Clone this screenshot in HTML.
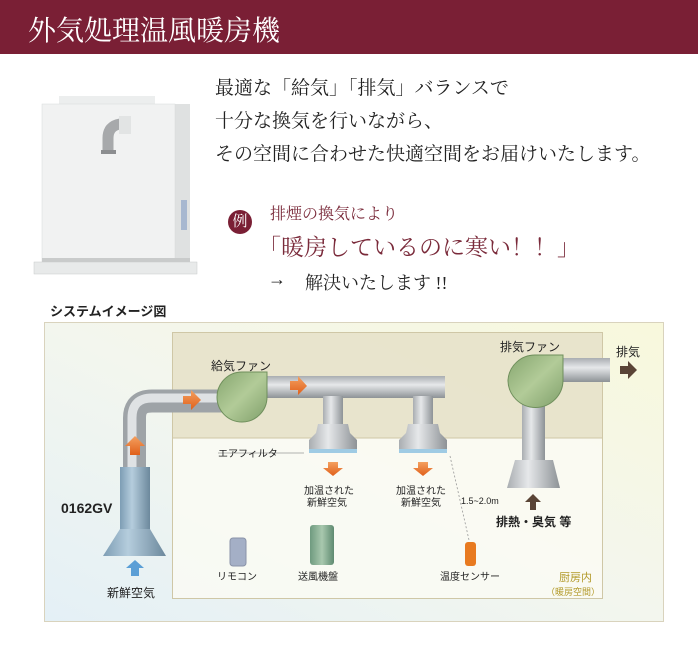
<!DOCTYPE html>
<html><head><meta charset="utf-8"><style>
body{margin:0;width:698px;height:667px;background:#fff;overflow:hidden;position:relative;font-family:"Liberation Sans","Noto Sans CJK JP",sans-serif}
.hd{position:absolute;left:0;top:0;width:698px;height:54px;background:#7a1f35}
.t{position:absolute;white-space:nowrap;font-family:"Liberation Serif","Noto Serif CJK SC",serif}
svg{position:absolute;left:0;top:0}
</style></head><body>
<div class="hd"></div>
<div class="t" style="left:28px;top:9px;font-size:28px;color:#fff">外気処理温風暖房機</div>
<div class="t" style="left:215px;top:73px;font-size:19px;color:#222">最適な「給気」「排気」バランスで</div>
<div class="t" style="left:215px;top:106px;font-size:19px;color:#222">十分な換気を行いながら、</div>
<div class="t" style="left:215px;top:139px;font-size:19px;color:#222">その空間に合わせた快適空間をお届けいたします。</div>
<div style="position:absolute;left:228px;top:210px;width:24px;height:24px;border-radius:50%;background:#7a1f35;color:#fff;font-family:'Liberation Serif','Noto Serif CJK SC',serif;font-size:15px;line-height:24px;text-align:center">例</div>
<div class="t" style="left:270px;top:201px;font-size:16px;color:#7a2a3a">排煙の換気により</div>
<div class="t" style="left:258px;top:229px;font-size:23px;color:#7a2a3a">「暖房しているのに寒い！！」</div>
<div class="t" style="left:268px;top:269px;font-size:18px;color:#222">→</div>
<div class="t" style="left:305px;top:269px;font-size:18px;color:#222">解決いたします !!</div>
<svg width="698" height="667" viewBox="0 0 698 667">
<defs>
<linearGradient id="bg" x1="0" y1="1" x2="1" y2="0"><stop offset="0" stop-color="#e4f0f6"/><stop offset="0.5" stop-color="#f3f6ee"/><stop offset="1" stop-color="#f8f8dc"/></linearGradient>
<linearGradient id="ph" x1="0" y1="0" x2="0" y2="1"><stop offset="0" stop-color="#a9adb1"/><stop offset="0.4" stop-color="#e6e8ea"/><stop offset="1" stop-color="#8d9296"/></linearGradient>
<linearGradient id="pv" x1="0" y1="0" x2="1" y2="0"><stop offset="0" stop-color="#a9adb1"/><stop offset="0.4" stop-color="#e6e8ea"/><stop offset="1" stop-color="#8d9296"/></linearGradient>
<linearGradient id="bl" x1="0" y1="0" x2="1" y2="0"><stop offset="0" stop-color="#7d9db4"/><stop offset="0.4" stop-color="#b5cddd"/><stop offset="1" stop-color="#6c889c"/></linearGradient>
<linearGradient id="gr" x1="0" y1="0" x2="1" y2="1"><stop offset="0" stop-color="#86a66f"/><stop offset="0.5" stop-color="#b2cb98"/><stop offset="1" stop-color="#7f9f6a"/></linearGradient>
<linearGradient id="gv" x1="0" y1="0" x2="1" y2="0"><stop offset="0" stop-color="#6f9a7f"/><stop offset="0.5" stop-color="#a8c8ae"/><stop offset="1" stop-color="#5f8a70"/></linearGradient>
<linearGradient id="og" x1="0" y1="0" x2="0" y2="1"><stop offset="0" stop-color="#f4a060"/><stop offset="1" stop-color="#e0601a"/></linearGradient>
</defs>
<!-- product -->
<rect x="59" y="96" width="96" height="9" fill="#eceeee"/>
<rect x="175" y="104" width="15" height="158" fill="#dfe1e1"/>
<rect x="42" y="104" width="133" height="158" fill="#f1f2f2" stroke="#d8dada" stroke-width="0.5"/>
<rect x="181" y="200" width="6" height="30" fill="#a8b8d0"/>
<rect x="34" y="262" width="163" height="12" fill="#e8eaea" stroke="#c8caca" stroke-width="0.5"/>
<rect x="42" y="258" width="148" height="4" fill="#c9cbcb"/>
<path d="M108 152 L108 138 Q108 126 120 124" fill="none" stroke="#a7a9ab" stroke-width="11"/>
<rect x="101" y="150" width="15" height="4" fill="#8c8e90"/>
<rect x="119" y="116" width="12" height="18" fill="#e2e4e4"/>
<!-- diagram -->
<text x="50" y="316" font-size="13" font-weight="bold" fill="#222">システムイメージ図</text>
<rect x="44.5" y="322.5" width="619" height="299" fill="url(#bg)" stroke="#d9d3bd"/>
<rect x="172.5" y="332.5" width="430" height="266" fill="#fafaf3" fill-opacity="0.85" stroke="#cfc7a6"/>
<rect x="173" y="333" width="429" height="105" fill="#e4dfc3" fill-opacity="0.8"/>
<line x1="173" y1="438" x2="602" y2="438" stroke="#cfc7a6"/>
<!-- supply duct -->
<path d="M134.5 470 L134.5 418 Q134.5 401 152 401 L225 401" fill="none" stroke="#9ea3a7" stroke-width="23"/>
<path d="M132 470 L132 418 Q132 398 152 398 L225 398" fill="none" stroke="#dfe2e4" stroke-width="9"/>
<rect x="120" y="467" width="30" height="63" fill="url(#bl)"/>
<path d="M120 529 L150 529 L166 556 L103 556 Z" fill="url(#bl)"/>
<rect x="255" y="376" width="190" height="22" fill="url(#ph)"/>
<rect x="323" y="396" width="20" height="30" fill="url(#pv)"/>
<rect x="413" y="396" width="20" height="30" fill="url(#pv)"/>
<path d="M318 424 L348 424 L350 433 L357 440 L357 449 L309 449 L309 440 L316 433Z" fill="url(#pv)"/>
<rect x="309" y="449" width="48" height="4" fill="#9fcbe4"/>
<path d="M408 424 L438 424 L440 433 L447 440 L447 449 L399 449 L399 440 L406 433Z" fill="url(#pv)"/>
<rect x="399" y="449" width="48" height="4" fill="#9fcbe4"/>
<path d="M217 397 A25 25 0 1 0 267 397 L267 372 L242 372 A25 25 0 0 0 217 397Z" fill="url(#gr)" stroke="#6f8f5c"/>
<!-- exhaust -->
<rect x="522" y="400" width="23" height="62" fill="url(#pv)"/>
<path d="M515 460 L553 460 L560 488 L507 488 Z" fill="url(#pv)"/>
<rect x="563" y="358" width="47" height="24" fill="url(#ph)"/>
<path d="M508 380 A27 27 0 1 0 563 380 L563 355 L535 355 A27 27 0 0 0 508 380Z" fill="url(#gr)" stroke="#6f8f5c"/>
<!-- arrows -->
<g fill="url(#og)">
<path d="M183 396 L191 396 L191 390 L201 400 L191 410 L191 404 L183 404Z"/>
<path d="M290 381 L298 381 L298 376 L307 386 L298 395 L298 390 L290 390Z"/>
<path d="M130 455 L130 446 L125 446 L135 436 L145 446 L140 446 L140 455Z"/>
<path d="M328 462 L338 462 L338 468 L343 468 L333 476 L323 468 L328 468Z"/>
<path d="M418 462 L428 462 L428 468 L433 468 L423 476 L413 468 L418 468Z"/>
</g>
<path d="M620 366 L628 366 L628 361 L637 370 L628 379 L628 374 L620 374Z" fill="#5a4436"/>
<path d="M530 510 L530 502 L525 502 L533 494 L541 502 L536 502 L536 510Z" fill="#5a4436"/>
<path d="M131 576 L131 568 L126 568 L135 560 L144 568 L139 568 L139 576Z" fill="#5b9fd6"/>
<!-- devices -->
<rect x="230" y="538" width="16" height="28" rx="3" fill="#a4afc6" stroke="#8a93a8"/>
<rect x="310" y="525" width="24" height="40" rx="3" fill="url(#gv)"/>
<rect x="465" y="542" width="11" height="24" rx="3" fill="#e87a20"/>
<line x1="304" y1="453" x2="218" y2="453" stroke="#999" stroke-width="0.8"/>
<line x1="450" y1="456" x2="469" y2="540" stroke="#999" stroke-width="0.8" stroke-dasharray="2,2"/>
<!-- labels -->
<g font-size="11" fill="#222">
<text x="211" y="370" font-size="12">給気ファン</text>
<text x="500" y="351" font-size="12">排気ファン</text>
<text x="616" y="356" font-size="12">排気</text>
<text x="218" y="457" font-size="10">エアフィルタ</text>
<text x="304" y="494" font-size="10">加温された</text>
<text x="307" y="506" font-size="10">新鮮空気</text>
<text x="396" y="494" font-size="10">加温された</text>
<text x="401" y="506" font-size="10">新鮮空気</text>
<text x="461" y="504" font-size="9">1.5~2.0m</text>
<text x="496" y="526" font-size="12" font-weight="bold">排熱・臭気 等</text>
<text x="61" y="513" font-size="14" font-weight="bold">0162GV</text>
<text x="107" y="597" font-size="12">新鮮空気</text>
<text x="217" y="580" font-size="10">リモコン</text>
<text x="298" y="580" font-size="10">送風機盤</text>
<text x="440" y="580" font-size="10">温度センサー</text>
<text x="559" y="581" font-size="11" fill="#b39a2a">厨房内</text>
<text x="546" y="595" font-size="9" fill="#b39a2a">（暖房空間）</text>
</g>
</svg>
</body></html>
